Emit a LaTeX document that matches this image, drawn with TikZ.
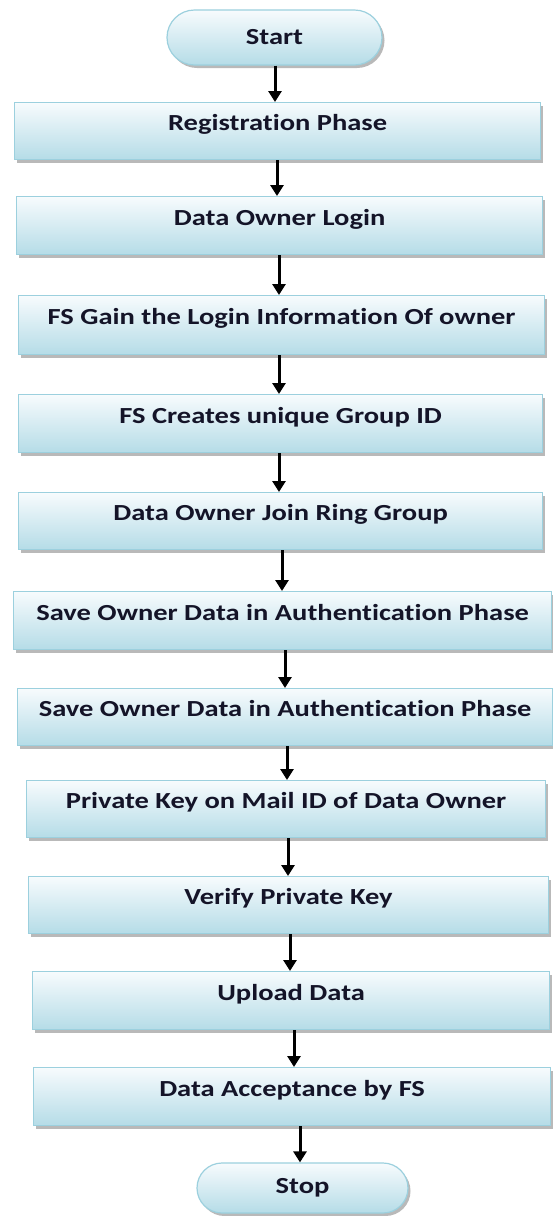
\documentclass[tikz,border=0pt]{standalone}
\usepackage{fontspec}
\setmainfont{Carlito}[FakeStretch=1.24, Ligatures=NoCommon]
\usetikzlibrary{shapes.misc,shadows,arrows.meta}
\definecolor{boxtop}{HTML}{F7FBFD}
\definecolor{boxbot}{HTML}{B5DCE7}
\definecolor{boxline}{HTML}{9CD0DE}
\definecolor{txt}{HTML}{141428}
\tikzset{
  box/.style={draw=boxline, line width=1.2pt, top color=boxtop, bottom color=boxbot,
    inner sep=0pt, text height=28pt, text depth=29pt, anchor=north west,
    font=\fontsize{23}{27}\selectfont\bfseries, text=txt,
    drop shadow={shadow xshift=2.5pt, shadow yshift=-3pt, fill=black!50, opacity=0.55}},
  term/.style={rounded rectangle, draw=boxline, line width=1.2pt, top color=boxtop, bottom color=boxbot,
    inner sep=0pt, font=\fontsize{23}{27}\selectfont\bfseries, text=txt,
    drop shadow={shadow xshift=2.5pt, shadow yshift=-3pt, fill=black!50, opacity=0.55}},
  arr/.style={line width=3pt, -{Triangle[width=13pt,length=11pt]}}
}
\begin{document}
\begin{tikzpicture}[x=1pt,y=-1pt]
\useasboundingbox[fill=white] (0,0) rectangle (553,1216);
\node[term, minimum width=215pt, minimum height=55pt] (start) at (274.5,37.5) {Start};
\node[box, minimum width=526pt, minimum height=56pt] (b1) at (14,102) {Registration Phase};
\node[box, minimum width=526pt, minimum height=58pt] (b2) at (16,196) {Data Owner Login};
\node[box, minimum width=526pt, minimum height=59pt] (b3) at (18,295) {FS Gain the Login Information Of owner};
\node[box, minimum width=524pt, minimum height=58pt] (b4) at (18,394) {FS Creates unique Group ID};
\node[box, minimum width=524pt, minimum height=57pt] (b5) at (18,492) {Data Owner Join Ring Group};
\node[box, minimum width=538pt, minimum height=58pt] (b6) at (13,591) {Save Owner Data in Authentication Phase};
\node[box, minimum width=535pt, minimum height=57pt] (b7) at (17,688) {Save Owner Data in Authentication Phase};
\node[box, minimum width=519pt, minimum height=57pt] (b8) at (26,780) {Private Key on Mail ID of Data Owner};
\node[box, minimum width=520pt, minimum height=56pt] (b9) at (28,876) {Verify Private Key};
\node[box, minimum width=517pt, minimum height=58pt] (b10) at (32,971) {Upload Data};
\node[box, minimum width=517pt, minimum height=58pt] (b11) at (33,1067) {Data Acceptance by FS};
\node[term, minimum width=211pt, minimum height=50pt] (stop) at (302.5,1188) {Stop};
\coordinate (x0) at (275,0);
\coordinate (x1) at (277,0);
\coordinate (x2) at (279,0);
\coordinate (x3) at (279,0);
\coordinate (x4) at (279,0);
\coordinate (x5) at (282,0);
\coordinate (x6) at (285,0);
\coordinate (x7) at (287,0);
\coordinate (x8) at (288,0);
\coordinate (x9) at (290,0);
\coordinate (x10) at (294,0);
\coordinate (x11) at (300,0);
\draw[arr] (start.south -| x0) -- (b1.north -| x0);
\draw[arr] (b1.south -| x1) -- (b2.north -| x1);
\draw[arr] (b2.south -| x2) -- (b3.north -| x2);
\draw[arr] (b3.south -| x3) -- (b4.north -| x3);
\draw[arr] (b4.south -| x4) -- (b5.north -| x4);
\draw[arr] (b5.south -| x5) -- (b6.north -| x5);
\draw[arr] (b6.south -| x6) -- (b7.north -| x6);
\draw[arr] (b7.south -| x7) -- (b8.north -| x7);
\draw[arr] (b8.south -| x8) -- (b9.north -| x8);
\draw[arr] (b9.south -| x9) -- (b10.north -| x9);
\draw[arr] (b10.south -| x10) -- (b11.north -| x10);
\draw[arr] (b11.south -| x11) -- (stop.north -| x11);
\end{tikzpicture}
\end{document}
